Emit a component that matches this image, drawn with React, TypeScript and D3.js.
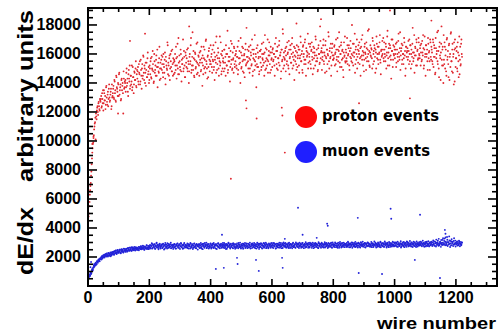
import React from "react";
import * as d3 from "d3";

// wire numbers (categories of the x axis): odd and even wires
const wiresOdd: number[] = d3.range(1, 1221, 2);
const wiresEven: number[] = d3.range(2, 1221, 2);

// proton events dE/dx on odd wires, in units of 100 (arbitrary units)
const protonOddHundreds: number[] = [
  45,50,58,66,71,79,88,95,99,104,110,113,101,117,121,124,118,127,122,129,
  127,131,124,129,135,126,133,128,122,137,130,125,134,129,139,127,132,136,124,130,
  133,138,129,141,135,127,144,136,131,139,146,132,137,128,142,135,140,119,143,137,
  140,134,147,138,143,131,149,141,136,145,139,152,137,144,133,148,142,150,138,146,
  143,151,139,147,155,141,149,136,153,145,158,142,150,147,138,154,144,161,148,140,
  152,146,157,143,150,162,148,141,155,149,145,159,151,137,154,147,165,150,143,156,
  149,158,144,153,147,161,139,155,150,168,146,152,157,142,160,151,148,163,145,154,
  156,147,152,165,143,158,150,171,146,155,149,160,141,153,157,148,162,152,144,159,
  151,163,148,155,140,158,153,166,147,152,175,149,157,144,161,150,155,146,168,153,
  158,145,154,162,149,157,138,152,165,150,156,147,170,153,143,159,151,164,148,155,
  153,160,147,156,166,151,142,158,154,172,149,157,161,145,155,152,168,146,159,150,
  157,148,163,154,145,160,152,176,149,158,155,141,162,153,167,150,156,147,164,151,
  155,162,150,158,146,169,153,157,140,161,151,165,148,156,159,144,163,152,178,154,
  158,150,165,147,156,161,152,170,145,157,163,149,155,160,137,153,166,151,158,148,
  162,154,149,167,157,152,160,145,173,155,150,163,156,147,159,168,153,161,149,157,
  151,164,156,160,145,158,171,153,162,149,157,166,152,159,143,163,155,177,150,161,
  157,162,148,165,155,160,152,169,146,158,163,154,167,150,161,156,142,164,158,153,
  166,151,159,163,147,157,172,155,160,149,165,158,153,168,156,145,162,159,174,154,
  160,155,167,150,163,158,146,165,157,161,152,170,159,155,148,164,160,153,179,157,
  162,149,158,166,155,161,147,169,157,163,153,159,172,150,164,158,145,161,167,156,
  159,165,152,161,170,156,148,163,158,175,154,160,166,151,162,157,144,168,159,155,
  163,157,171,153,160,166,149,158,164,155,180,159,152,167,161,147,163,156,170,158,
  154,162,168,157,145,165,159,173,152,161,156,167,160,149,164,158,176,155,162,151,
  166,158,163,150,169,160,155,164,147,161,172,157,165,153,160,168,156,146,163,159,
  160,171,155,163,158,167,150,161,176,157,164,152,166,159,143,162,170,156,160,165,
  157,163,151,168,160,155,174,158,164,149,162,167,156,160,153,171,159,145,165,158,
  162,156,169,153,160,166,150,163,158,178,155,161,147,165,159,170,152,163,157,168,
  159,164,152,167,156,161,173,150,163,158,145,166,160,155,171,157,162,149,168,156,
  163,155,170,151,166,158,147,164,160,175,153,162,144,168,157,161,179,152,165,140,
  156,168,150,163,145,171,158,153,166,142,160,174,155,148,167,158,139,163,170,151,
  157,165,148,161,144,172,156,152,167,160,
];

// proton events dE/dx on even wires, in units of 100
const protonEvenHundreds: number[] = [
  48,55,63,69,76,84,92,98,103,108,112,116,119,115,123,120,126,124,121,128,
  129,123,133,126,121,135,128,131,125,138,127,132,124,136,130,128,134,122,139,131,
  136,130,142,133,128,145,137,134,140,131,147,135,139,129,143,138,133,148,136,141,
  142,137,150,140,134,146,143,152,138,145,141,135,151,144,139,147,142,155,137,149,
  148,141,153,146,139,156,145,150,143,159,147,152,140,154,149,144,157,146,151,142,
  150,155,144,158,149,153,140,160,147,152,156,145,163,151,148,157,142,154,150,159,
  153,147,160,151,156,143,158,152,149,166,154,145,159,150,155,162,148,153,157,146,
  155,160,149,157,152,167,146,154,159,151,163,148,156,153,170,150,158,144,161,154,
  157,150,164,153,148,160,155,171,149,158,152,162,145,156,160,151,167,154,147,159,
  152,161,156,148,165,154,159,146,157,163,151,169,155,150,158,144,162,156,153,166,
  158,151,163,155,149,161,156,168,147,159,153,164,150,157,172,154,160,148,162,155,
  154,163,150,158,166,152,160,147,155,164,158,151,169,156,149,161,157,165,153,159,
  160,152,158,165,149,157,162,154,171,150,159,155,164,147,160,156,167,153,158,163,
  155,162,157,150,166,159,153,163,148,160,156,173,152,158,164,151,161,157,146,162,
  158,163,151,160,156,168,154,161,149,164,157,152,170,155,162,159,147,165,156,161,
  163,155,160,152,167,158,162,150,165,157,154,169,159,161,148,163,156,174,158,152,
  156,164,159,153,168,161,150,163,157,166,154,160,171,158,152,165,159,155,162,149,
  161,157,165,152,163,159,168,155,162,147,166,160,156,170,153,164,158,161,150,167,
  158,165,153,162,168,156,161,150,164,159,172,155,163,157,149,166,160,154,169,161,
  164,156,161,170,153,159,166,158,148,163,160,175,155,162,157,167,152,164,159,156,
  157,166,160,153,163,158,171,155,162,165,151,160,168,156,163,149,161,158,172,154,
  161,155,166,159,164,152,162,169,157,160,154,167,161,158,174,153,165,160,150,163,
  166,160,153,164,158,170,156,162,159,148,165,161,157,168,155,163,160,177,152,161,
  159,164,157,171,153,162,166,158,163,150,167,160,156,165,161,173,154,162,158,169,
  163,157,168,160,155,165,159,172,152,161,167,158,164,156,170,162,151,166,159,163,
  160,167,154,163,158,169,161,156,175,159,164,153,166,160,157,168,162,150,165,161,
  164,158,162,170,155,166,160,153,167,161,157,173,159,164,152,168,162,156,171,160,
  157,166,161,155,169,159,164,152,172,160,166,158,163,149,167,161,155,170,158,165,
  161,153,168,158,164,146,171,157,162,155,176,150,165,159,142,167,156,163,152,173,
  153,165,159,148,170,156,162,144,167,158,151,175,155,163,147,160,168,141,164,157,
  162,150,168,155,159,146,165,153,170,158,
];

// muon events dE/dx on odd wires, in units of 10 (arbitrary units)
const muonOddTens: number[] = [
  45,62,80,74,95,88,110,105,128,140,135,152,160,148,171,165,178,182,175,190,
  185,198,204,190,210,199,215,205,219,208,224,213,203,228,218,209,231,221,212,234,
  222,236,216,240,228,245,221,234,248,229,239,251,233,226,254,238,244,231,258,242,
  249,235,257,246,240,262,251,243,265,250,244,268,255,246,260,270,248,258,264,252,
  261,249,270,258,266,254,274,262,257,278,265,252,272,260,268,281,255,264,276,259,
  268,281,259,275,290,263,279,271,286,255,277,293,266,281,272,262,288,274,258,283,
  276,262,291,270,281,258,285,273,267,295,278,264,283,271,289,260,277,284,269,280,
  265,287,274,259,281,292,270,278,263,286,275,297,268,282,257,279,289,272,266,284,
  279,270,262,288,276,283,258,291,273,267,285,280,264,294,271,277,260,286,274,282,
  271,289,277,263,284,259,290,276,281,268,296,273,285,261,279,288,270,275,266,292,
  283,268,278,292,262,286,274,281,258,289,277,270,295,266,282,275,287,263,279,272,
  264,285,276,290,269,281,257,287,273,294,279,266,284,271,278,291,260,286,275,268,
  289,274,263,282,277,296,268,285,272,259,288,279,266,291,275,283,262,278,293,270,
  277,290,266,284,273,261,287,279,294,270,283,265,289,276,258,286,272,292,280,267,
  284,271,292,263,280,275,297,269,286,278,261,290,274,283,266,288,279,270,295,276,
  268,289,277,293,272,285,260,282,276,291,265,287,279,271,296,274,284,262,289,278,
  291,273,283,266,288,279,295,270,284,262,290,277,286,273,299,268,281,287,264,292,
  276,286,269,293,280,274,289,263,285,297,271,282,277,290,266,288,275,294,281,270,
  287,265,291,279,284,272,298,276,289,268,283,292,274,286,279,261,295,281,270,288,
  279,293,271,286,277,290,266,284,296,273,288,280,269,292,282,275,298,267,285,290,
  272,287,282,295,268,280,291,276,285,263,294,281,289,274,297,270,286,278,292,283,
  290,276,284,271,296,281,288,267,293,279,285,299,273,287,280,291,269,284,295,277,
  281,294,270,288,283,276,297,286,272,290,279,293,265,285,291,277,298,282,274,289,
  286,273,292,280,295,269,287,283,298,276,290,281,271,294,284,278,300,267,288,292,
  277,291,284,270,296,283,289,274,293,280,268,297,285,279,292,272,287,299,281,275,
  293,282,276,298,287,271,290,284,279,295,266,288,281,301,274,292,285,278,296,270,
  285,297,273,289,281,294,277,300,286,269,292,283,298,275,288,280,295,272,290,284,
  279,293,286,302,274,290,283,297,271,288,295,280,305,276,291,287,273,299,284,294,
  289,276,301,285,308,280,295,272,298,290,312,278,293,286,304,270,297,283,318,288,
  296,327,281,305,290,338,276,300,287,314,269,293,308,282,299,275,311,286,295,272,
  290,303,279,296,285,307,274,292,281,298,
];

// muon events dE/dx on even wires, in units of 10
const muonEvenTens: number[] = [
  55,70,68,90,82,102,118,112,125,132,145,142,158,150,168,160,172,185,170,188,
  192,183,206,195,201,212,197,209,220,203,216,207,226,211,222,216,205,229,219,225,
  230,218,238,226,243,232,224,247,236,230,241,250,228,245,237,252,240,233,256,246,
  241,255,247,238,260,252,244,263,249,257,242,266,253,248,262,256,245,267,258,250,
  263,256,247,268,260,272,253,266,259,275,262,250,270,264,257,279,261,268,254,273,
  282,264,277,295,258,284,270,289,262,279,274,298,266,285,253,280,291,268,276,287,
  263,288,275,252,281,296,269,284,259,278,290,265,287,274,299,261,283,271,256,286,
  290,271,258,285,277,294,263,281,288,256,274,292,267,279,285,260,296,273,282,268,
  266,293,281,259,287,272,297,264,280,289,255,277,292,270,283,261,290,278,251,285,
  288,262,279,296,269,285,254,291,275,263,287,280,298,265,276,290,258,282,271,294,
  259,281,290,268,297,274,263,288,283,255,279,294,271,286,260,278,292,267,284,297,
  277,296,262,283,255,290,279,268,298,275,286,259,292,270,281,263,295,276,289,257,
  265,283,294,271,260,287,276,299,263,281,270,292,257,285,278,296,268,289,274,261,
  292,268,280,298,258,275,291,263,284,272,296,279,261,288,274,299,266,283,256,291,
  270,295,282,258,289,276,264,293,281,299,267,285,272,260,294,278,287,263,282,297,
  283,262,296,276,289,258,292,273,267,287,280,298,264,285,275,261,293,279,300,270,
  276,297,265,288,271,283,262,298,277,290,268,285,260,294,279,273,289,266,301,282,
  294,270,285,262,299,279,291,272,267,296,283,261,288,276,302,269,292,285,263,297,
  272,299,280,294,263,287,275,261,293,281,297,269,290,284,266,302,276,291,287,264,
  298,274,289,265,284,302,270,293,279,286,262,297,276,289,271,294,283,263,301,280,
  286,269,301,280,292,274,264,298,283,271,303,288,266,294,281,277,299,268,290,285,
  269,296,278,305,284,267,293,286,275,301,264,290,282,296,271,304,287,276,292,266,
  299,277,291,265,302,285,280,306,272,289,297,268,295,283,274,300,278,293,286,270,
  281,303,268,292,287,276,308,285,294,266,291,283,300,275,289,269,305,281,295,276,
  296,270,289,307,281,293,266,299,287,276,303,282,270,297,290,278,306,285,273,300,
  279,301,292,270,306,284,297,275,289,309,272,294,287,279,303,268,298,291,282,307,
  303,283,296,278,310,288,272,299,292,284,305,276,301,290,269,307,286,297,279,302,
  288,306,280,298,291,312,277,295,286,303,273,300,292,284,309,278,297,302,281,305,
  301,284,314,292,277,306,296,320,283,300,289,325,280,303,294,317,287,298,330,285,
  310,289,334,298,282,319,303,287,342,294,311,280,322,296,306,286,329,291,313,299,
  287,308,294,281,312,297,289,304,284,300,
];

// isolated points
const protonExtraWire: number[] = [98, 137, 186, 466, 515, 517, 550, 632, 634, 642, 680, 884, 985, 1050, 1120, 760, 330, 12, 14, 18];
const protonExtraValue: number[] = [11900, 16900, 17400, 7400, 12800, 12250, 11550, 12300, 11760, 9200, 18100, 12600, 19000, 12940, 18300, 18400, 17900, 11500, 9800, 10200];
const muonExtraWire: number[] = [437, 417, 443, 486, 488, 548, 557, 633, 635, 642, 685, 700, 746, 780, 782, 880, 883, 959, 987, 989, 1066, 1083, 1148, 1164, 1166, 8, 10, 20];
const muonExtraValue: number[] = [3530, 1180, 1250, 1940, 1520, 1800, 1040, 1940, 1250, 3250, 5400, 3530, 3320, 4300, 4150, 4700, 900, 830, 5330, 4640, 1800, 4910, 550, 3870, 3600, 1300, 1650, 1500];

const xMajorTicks: number[] = [0, 200, 400, 600, 800, 1000, 1200];
const yMajorTicks: number[] = [0, 2000, 4000, 6000, 8000, 10000, 12000, 14000, 16000, 18000];
const yTickLabels: number[] = [2000, 4000, 6000, 8000, 10000, 12000, 14000, 16000, 18000];
const legendLabels: string[] = ["proton events", "muon events"];

const W = 504, H = 334;
const L = 88, R = 497, T = 8, B = 286;

export default function App() {
  const x = d3.scaleLinear().domain([0, 1334]).range([L, R]);
  const y = d3.scaleLinear().domain([0, 19170]).range([B, T]);
  const xMinor = d3.range(0, 1334, 50).filter((v) => v % 200 !== 0);
  const yMinor = d3.range(0, 19170, 500).filter((v) => v % 2000 !== 0);
  const font = "'Liberation Sans', Arial, Helvetica, sans-serif";

  const proton = [
    ...wiresOdd.map((w, i) => ({ w, v: protonOddHundreds[i] * 100 })),
    ...wiresEven.map((w, i) => ({ w, v: protonEvenHundreds[i] * 100 })),
    ...protonExtraWire.map((w, i) => ({ w, v: protonExtraValue[i] })),
  ].filter((d) => Number.isFinite(d.v));
  const muon = [
    ...wiresOdd.map((w, i) => ({ w, v: muonOddTens[i] * 10 })),
    ...wiresEven.map((w, i) => ({ w, v: muonEvenTens[i] * 10 })),
    ...muonExtraWire.map((w, i) => ({ w, v: muonExtraValue[i] })),
  ].filter((d) => Number.isFinite(d.v));

  const red = "#e0262e";
  const blue = "#2222d8";

  return (
    <svg width={W} height={H} style={{ position: "absolute", left: 0, top: 0, background: "#fff" }}>
      <rect x={0} y={0} width={W} height={H} fill="#fff" />
      <g>
        {proton.map((d, i) => (
          <circle key={"p" + i} cx={x(d.w)} cy={y(Math.min(d.v, 19050))} r={0.95} fill={red} />
        ))}
        {muon.map((d, i) => (
          <circle key={"m" + i} cx={x(d.w)} cy={y(d.v)} r={0.95} fill={blue} />
        ))}
      </g>
      <rect x={L} y={T} width={R - L} height={B - T} fill="none" stroke="#000" strokeWidth={2} />
      <g stroke="#000" strokeWidth={1.6}>
        {xMajorTicks.map((t) => (
          <g key={"xm" + t}>
            <line x1={x(t)} x2={x(t)} y1={B} y2={B - 7} />
            <line x1={x(t)} x2={x(t)} y1={T} y2={T + 7} />
          </g>
        ))}
        {xMinor.map((t) => (
          <g key={"xn" + t}>
            <line x1={x(t)} x2={x(t)} y1={B} y2={B - 4} />
            <line x1={x(t)} x2={x(t)} y1={T} y2={T + 4} />
          </g>
        ))}
        {yMajorTicks.map((t) => (
          <g key={"ym" + t}>
            <line x1={L} x2={L + 9} y1={y(t)} y2={y(t)} />
            <line x1={R} x2={R - 9} y1={y(t)} y2={y(t)} />
          </g>
        ))}
        {yMinor.map((t) => (
          <g key={"yn" + t}>
            <line x1={L} x2={L + 5} y1={y(t)} y2={y(t)} />
            <line x1={R} x2={R - 5} y1={y(t)} y2={y(t)} />
          </g>
        ))}
      </g>
      <g fontFamily={font} fontWeight="bold" fontSize={16} fill="#000">
        {xMajorTicks.map((t) => (
          <text key={"xl" + t} x={x(t)} y={B + 17} textAnchor="middle">{t}</text>
        ))}
        {yTickLabels.map((t) => (
          <text key={"yl" + t} x={81} y={y(t) + 5} textAnchor="end">{t}</text>
        ))}
      </g>
      <text x={496} y={329} textAnchor="end" fontFamily={font} fontWeight="bold" fontSize={16}
        textLength={119} lengthAdjust="spacingAndGlyphs">wire number</text>
      <g fontFamily={font} fontWeight="bold" fontSize={22}>
        <text transform="translate(33,275) rotate(-90)" textLength={68} lengthAdjust="spacingAndGlyphs">dE/dx</text>
        <text transform="translate(33,182) rotate(-90)" textLength={172} lengthAdjust="spacingAndGlyphs">arbitrary units</text>
      </g>
      <circle cx={306} cy={117} r={11} fill="#ff0a0a" />
      <circle cx={306} cy={152} r={11} fill="#1f1fff" />
      <g fontFamily="'DejaVu Sans', Verdana, sans-serif" fontWeight="bold" fontSize={15}>
        <text x={322} y={121} textLength={117} lengthAdjust="spacingAndGlyphs">{legendLabels[0]}</text>
        <text x={322} y={156} textLength={108} lengthAdjust="spacingAndGlyphs">{legendLabels[1]}</text>
      </g>
    </svg>
  );
}
